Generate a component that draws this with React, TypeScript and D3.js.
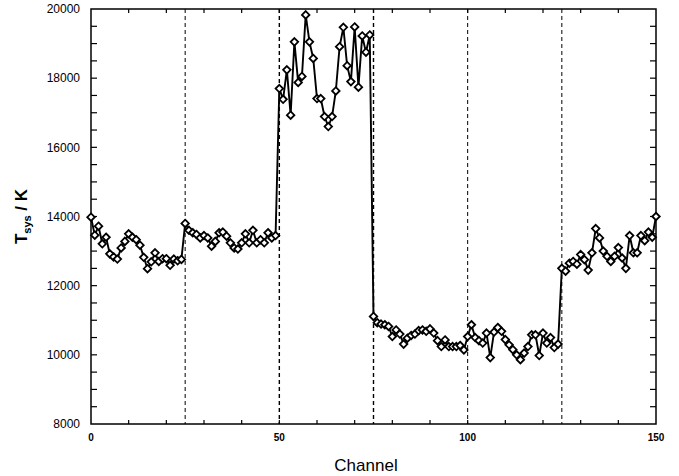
import React from "react";
import * as d3 from "d3";

const seg1 = [13980, 13460, 13720, 13210, 13400, 12920, 12830, 12770, 13090, 13280, 13500, 13400, 13330, 13170, 12820, 12490, 12690, 12950, 12700, 12780, 12780, 12590, 12770, 12720, 12760];
const seg2 = [13800, 13600, 13530, 13480, 13380, 13450, 13380, 13140, 13280, 13530, 13550, 13430, 13240, 13090, 13060, 13240, 13500, 13240, 13600, 13240, 13330, 13240, 13530, 13380, 13450];
const seg3 = [17700, 17390, 18240, 16930, 19050, 17875, 18050, 19830, 19050, 18570, 17410, 17410, 16890, 16600, 16890, 17630, 18910, 19470, 18360, 17900, 19480, 17740, 19220, 18750, 19250];
const seg4 = [11110, 10930, 10890, 10870, 10820, 10530, 10720, 10600, 10310, 10480, 10560, 10600, 10700, 10720, 10680, 10750, 10630, 10410, 10240, 10430, 10240, 10240, 10240, 10270, 10140];
const seg5 = [10530, 10870, 10500, 10410, 10340, 10630, 9920, 10660, 10790, 10680, 10440, 10290, 10150, 10000, 9860, 10050, 10240, 10580, 10580, 9980, 10630, 10340, 10500, 10210, 10310];
const seg6 = [12500, 12420, 12650, 12700, 12620, 12900, 12750, 12450, 12950, 13650, 13380, 13000, 12850, 12700, 12850, 13100, 12800, 12500, 13450, 12950, 12950, 13450, 13300, 13550, 13400, 14000];

const tsys = [...seg1, ...seg2, ...seg3, ...seg4, ...seg5, ...seg6];
const channels = tsys.map((_, i) => i);
const boundaries = [25, 50, 75, 100, 125];
const xTickLabels = [0, 50, 100, 150];
const yTickLabels = [8000, 10000, 12000, 14000, 16000, 18000, 20000];

const W = 679, H = 476;
const L = 91, R = 656, T = 9, B = 424;

export default function App() {
  const x = d3.scaleLinear().domain([0, 150]).range([L, R]);
  const y = d3.scaleLinear().domain([8000, 20000]).range([B, T]);
  const line = d3.line<number>().x((_, i) => x(channels[i])).y((d) => y(d));
  const diamond = d3.symbol().type(d3.symbolDiamond2).size(36)();
  const xMinor = d3.range(10, 150, 10);
  const yMinor = d3.range(8500, 20000, 500);
  const font = "Liberation Sans, Arial, sans-serif";

  return (
    <svg width={W} height={H} style={{ position: "absolute", left: 0, top: 0, background: "#fff" }}>
      <rect x={0} y={0} width={W} height={H} fill="#fff" />
      {boundaries.map((b) => (
        <line key={b} x1={x(b)} x2={x(b)} y1={T} y2={B} stroke="#000"
          strokeWidth={b === 50 || b === 75 ? 1.4 : 1} strokeDasharray="4,3" />
      ))}
      {xMinor.map((t) => (
        <g key={"xt" + t}>
          <line x1={x(t)} x2={x(t)} y1={B} y2={B - 4} stroke="#000" strokeWidth={1.2} />
          <line x1={x(t)} x2={x(t)} y1={T} y2={T + 4} stroke="#000" strokeWidth={1.2} />
        </g>
      ))}
      {yMinor.map((t) => (
        <g key={"yt" + t}>
          <line x1={L} x2={L + 6} y1={y(t)} y2={y(t)} stroke="#000" strokeWidth={1.2} />
          <line x1={R} x2={R - 6} y1={y(t)} y2={y(t)} stroke="#000" strokeWidth={1.2} />
        </g>
      ))}
      <rect x={L} y={T} width={R - L} height={B - T} fill="none" stroke="#000" strokeWidth={1.5} />
      <path d={line(tsys) || ""} fill="none" stroke="#000" strokeWidth={1.9} />
      {tsys.map((v, i) => (
        <path key={i} d={diamond || ""} transform={`translate(${x(channels[i])},${y(v)})`}
          fill="#fff" stroke="#000" strokeWidth={1.8} />
      ))}
      {yTickLabels.map((t) => (
        <text key={"yl" + t} x={80} y={y(t)} dy="0.35em" textAnchor="end" fontFamily={font} fontSize={12}>
          {t}
        </text>
      ))}
      {xTickLabels.map((t) => (
        <text key={"xl" + t} x={x(t)} y={441} textAnchor="middle" fontFamily={font} fontSize={10} fontWeight="bold">
          {t}
        </text>
      ))}
      <text x={366} y={471} textAnchor="middle" fontFamily={font} fontSize={17}>
        Channel
      </text>
      <text transform={`translate(27,${(T + B) / 2}) rotate(-90)`} textAnchor="middle" fontFamily={font} fontSize={17} fontWeight="bold">
        T<tspan fontSize={11} dy={4}>sys</tspan><tspan dy={-4}> / K</tspan>
      </text>
    </svg>
  );
}
